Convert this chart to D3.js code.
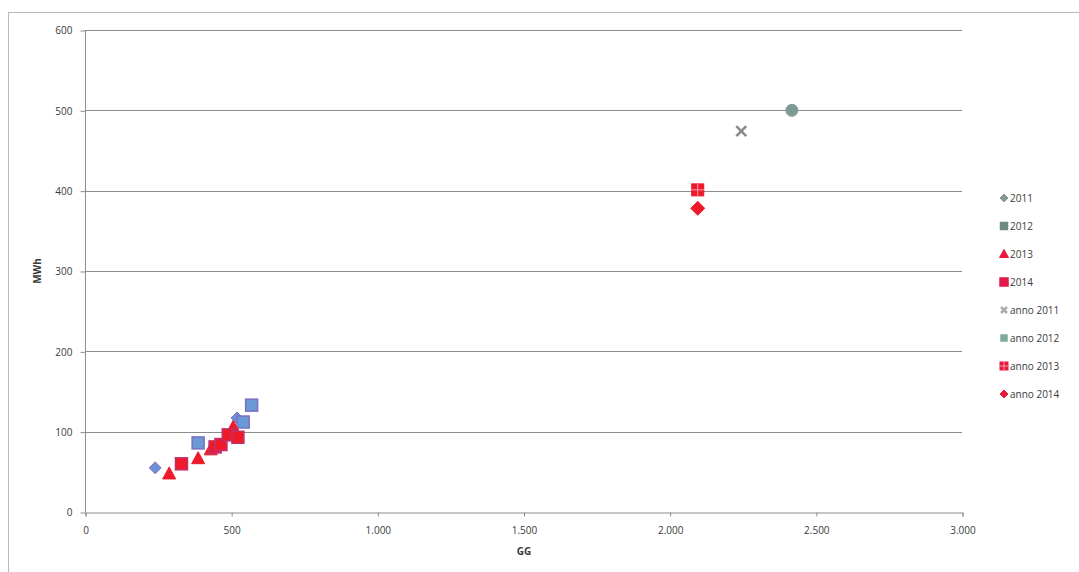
<!DOCTYPE html>
<html><head><meta charset="utf-8">
<script src="https://cdn.jsdelivr.net/npm/d3@7"></script>
<style>
body{margin:0;background:#fff;}
svg{display:block;font-family:"Open Sans","Liberation Sans",sans-serif;}
</style></head>
<body><svg id="c" width="1079" height="572"></svg>
<script>
const xTicks = [0, 500, 1000, 1500, 2000, 2500, 3000];
const yTicks = [0, 100, 200, 300, 400, 500, 600];
const xTickLabels = ["0", "500", "1.000", "1.500", "2.000", "2.500", "3.000"];
const seriesNames = ["2011", "2012", "2013", "2014", "anno 2011", "anno 2012", "anno 2013", "anno 2014"];
const s2011 = [[240, 55], [520, 117]];
const s2012 = [[387, 86], [541, 112], [570, 133]];
const s2013 = [[288, 48], [387, 67], [430, 78], [507, 106]];
const s2014 = [[330, 60], [445, 81], [465, 84], [490, 96], [523, 93]];
const sAnno2011 = [[2245, 474]];
const sAnno2012 = [[2418, 500]];
const sAnno2013 = [[2096, 401]];
const sAnno2014 = [[2096, 378]];

const seriesData = [s2011, s2012, s2013, s2014, sAnno2011, sAnno2012, sAnno2013, sAnno2014];
const styles = [
  {shape: "diamond", fill: "#6f8fd6", stroke: "#7c78c4", size: 10},
  {shape: "square", fill: "#6a9ad6", stroke: "#7a70c0", size: 12},
  {shape: "triangle", fill: "#ee1a2a", stroke: "#ee1a2a", size: 11},
  {shape: "square", fill: "#ee1a2a", stroke: "#c0306e", size: 12},
  {shape: "x", fill: "#8a8a8a", stroke: "#8a8a8a", size: 10},
  {shape: "circle", fill: "#7f9a94", stroke: "#7f9a94", size: 12},
  {shape: "squarecross", fill: "#ee1a2a", stroke: "#ee1a2a", size: 12},
  {shape: "diamond", fill: "#ee1a2a", stroke: "#ee1a2a", size: 12}
];
const legendStyles = [
  {shape: "diamond", fill: "#8a9a9a", stroke: "#8a9a9a", size: 6},
  {shape: "square", fill: "#6f8a80", stroke: "#6f8a80", size: 7},
  {shape: "triangle", fill: "#e8183a", stroke: "#e8183a", size: 7},
  {shape: "square", fill: "#e01a4a", stroke: "#e01a4a", size: 8},
  {shape: "x", fill: "#aaa", stroke: "#aaa", size: 6},
  {shape: "square", fill: "#7faa98", stroke: "#7faa98", size: 6},
  {shape: "squarecross", fill: "#e8183a", stroke: "#e8183a", size: 8},
  {shape: "diamond", fill: "#e8183a", stroke: "#e8183a", size: 6}
];

const svg = d3.select("#c");
const x = d3.scaleLinear().domain([0, 3000]).range([85, 962]);
const y = d3.scaleLinear().domain([0, 600]).range([512, 30]);

svg.append("rect").attr("x", 8.5).attr("y", 12.5).attr("width", 1100).attr("height", 600)
  .attr("fill", "none").attr("stroke", "#b8b8b8").attr("stroke-width", 1);

svg.append("g").selectAll("line").data(yTicks.filter(d => d > 0)).join("line")
  .attr("x1", x(0)).attr("x2", x(3000))
  .attr("y1", d => Math.round(y(d)) + 0.5).attr("y2", d => Math.round(y(d)) + 0.5)
  .attr("stroke", "#8c8c8c").attr("stroke-width", 1);

const yAxis = d3.axisLeft(y).tickValues(yTicks).tickSize(5).tickPadding(8).tickFormat(d3.format("d"));
const gy = svg.append("g").attr("transform", `translate(${x(0) + 0.5},0.5)`).call(yAxis);
const xAxis = d3.axisBottom(x).tickValues(xTicks).tickSize(4).tickPadding(10).tickFormat((d, i) => xTickLabels[i]);
const gx = svg.append("g").attr("transform", `translate(0.5,${Math.round(y(0)) + 0.5})`).call(xAxis);
[gx, gy].forEach(g => {
  g.select(".domain").attr("stroke", "#8c8c8c");
  g.selectAll(".tick line").attr("stroke", "#8c8c8c");
  g.selectAll("text").attr("fill", "#3a3a3a").attr("font-size", 10).attr("font-family", "'Open Sans','Liberation Sans',sans-serif");
});
gy.select(".domain").attr("d", `M-0,${y(600)}V${y(0)}`);

svg.append("text").attr("x", 524).attr("y", 555).attr("text-anchor", "middle")
  .attr("font-size", 10).attr("font-weight", "bold").attr("fill", "#3a3a3a").text("GG");
svg.append("text").attr("transform", `translate(41,${y(300)}) rotate(-90)`).attr("text-anchor", "middle")
  .attr("font-size", 10).attr("font-weight", "bold").attr("fill", "#3a3a3a").text("MWh");

function drawMarker(g, st, cx, cy) {
  const s = st.size, h = s / 2;
  if (st.shape === "square") {
    g.append("rect").attr("x", cx - h).attr("y", cy - h).attr("width", s).attr("height", s)
      .attr("fill", st.fill).attr("stroke", st.stroke).attr("stroke-width", 1.5);
  } else if (st.shape === "squarecross") {
    g.append("rect").attr("x", cx - h).attr("y", cy - h).attr("width", s).attr("height", s)
      .attr("fill", st.fill).attr("stroke", st.stroke).attr("stroke-width", 1);
    g.append("path").attr("d", `M${cx},${cy - h}V${cy + h}M${cx - h},${cy}H${cx + h}`)
      .attr("stroke", "#f7a0b0").attr("stroke-width", 1);
  } else if (st.shape === "diamond") {
    g.append("path").attr("d", `M${cx},${cy - h - 1}L${cx + h + 1},${cy}L${cx},${cy + h + 1}L${cx - h - 1},${cy}Z`)
      .attr("fill", st.fill).attr("stroke", st.stroke).attr("stroke-width", 1);
  } else if (st.shape === "triangle") {
    g.append("path").attr("d", `M${cx},${cy - h - 1}L${cx + h + 1},${cy + h}L${cx - h - 1},${cy + h}Z`)
      .attr("fill", st.fill).attr("stroke", st.stroke).attr("stroke-width", 1);
  } else if (st.shape === "circle") {
    g.append("circle").attr("cx", cx).attr("cy", cy).attr("r", h)
      .attr("fill", st.fill).attr("stroke", st.stroke);
  } else if (st.shape === "x") {
    g.append("path").attr("d", `M${cx - h},${cy - h}L${cx + h},${cy + h}M${cx + h},${cy - h}L${cx - h},${cy + h}`)
      .attr("stroke", st.stroke).attr("stroke-width", 2.5).attr("fill", "none");
  }
}

const pts = svg.append("g");
seriesData.forEach((data, i) => {
  data.forEach(d => drawMarker(pts, styles[i], x(d[0]), y(d[1])));
});

const lg = svg.append("g");
seriesNames.forEach((name, i) => {
  const ly = 198 + i * 28;
  drawMarker(lg, legendStyles[i], 1004, ly);
  lg.append("text").attr("x", 1010).attr("y", ly + 4).attr("font-size", 10).attr("fill", "#3a3a3a").text(name);
});
</script></body></html>
